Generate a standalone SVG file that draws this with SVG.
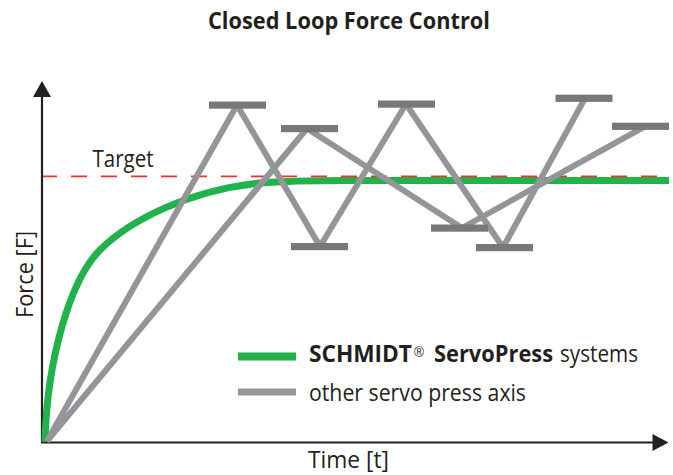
<svg xmlns="http://www.w3.org/2000/svg" width="673" height="475" viewBox="0 0 673 475">
<style>
  .t{font-family:"Open Sans","Liberation Sans",sans-serif;fill:#231f20;font-size:23px}
  .b{font-weight:bold}
  .gray{fill:none;stroke:#939598;stroke-width:6;stroke-linejoin:round}
  .bar{fill:#77787b}
  .green{fill:none;stroke:#21b24b;stroke-width:7}
  .axis{stroke:#231f20;stroke-width:2.2;fill:none}
</style>
<rect width="673" height="475" fill="#ffffff"/>
<text id="title" class="t b" x="208" y="29.3" font-size="22" textLength="282" lengthAdjust="spacingAndGlyphs">Closed Loop Force Control</text>
<g id="axes">
  <line class="axis" x1="42" y1="443" x2="42" y2="96"/>
  <polygon points="42,81 33,97 51,97" fill="#231f20"/>
  <line class="axis" x1="41" y1="442.5" x2="654" y2="442.5"/>
  <polygon points="668.5,442.5 652.5,434 652.5,451" fill="#231f20"/>
  <text class="t" transform="translate(32.5,318) rotate(-90)" textLength="87" lengthAdjust="spacingAndGlyphs">Force [F]</text>
  <text class="t" x="308" y="468" textLength="81" lengthAdjust="spacingAndGlyphs">Time [t]</text>
</g>
<g id="green-curve">
  <path class="green" d="M45,442 C47,360 70,280 100,250 C130,220 190,190 260,183 C290,180.5 320,180.5 350,180.5 L669,180.5"/>
</g>
<g id="target">
  <line x1="43" y1="176.3" x2="668" y2="176.3" stroke="#ee3124" stroke-width="1.7" stroke-dasharray="16 14" stroke-dashoffset="2"/>
  <text class="t" x="92.5" y="166.5" textLength="61" lengthAdjust="spacingAndGlyphs">Target</text>
</g>
<g id="gray-lines">
  <polyline class="gray" points="47,441 237,105 320,246.5 406,104 503,247.5 585,98.3"/>
  <polyline class="gray" points="47,441 307,128.5 462,228 645,126.3"/>
</g>
<g id="bars">
  <rect class="bar" x="209" y="101.5" width="57" height="7.2"/>
  <rect class="bar" x="281" y="125" width="57" height="7.2"/>
  <rect class="bar" x="291" y="243" width="57" height="7.2"/>
  <rect class="bar" x="378" y="100.5" width="57" height="7.2"/>
  <rect class="bar" x="431" y="224.5" width="57" height="7.2"/>
  <rect class="bar" x="476" y="244" width="57" height="7.2"/>
  <rect class="bar" x="555.5" y="94.7" width="57" height="7.2"/>
  <rect class="bar" x="612" y="122.7" width="57" height="7.2"/>
</g>
<g id="legend">
  <line x1="238" y1="356.5" x2="296" y2="356.5" stroke="#21b24b" stroke-width="8"/>
  <line x1="238" y1="392" x2="296" y2="392" stroke="#939598" stroke-width="7"/>
  <text class="t b" x="309" y="362" textLength="103" lengthAdjust="spacingAndGlyphs">SCHMIDT</text>
  <text x="414" y="357" font-family="'Liberation Sans',sans-serif" font-size="15" fill="#231f20" textLength="10" lengthAdjust="spacingAndGlyphs">®</text>
  <text class="t b" x="434" y="362" textLength="119" lengthAdjust="spacingAndGlyphs">ServoPress</text>
  <text class="t" x="560" y="362" textLength="78" lengthAdjust="spacingAndGlyphs">systems</text>
  <text class="t" x="309" y="401" textLength="217" lengthAdjust="spacingAndGlyphs">other servo press axis</text>
</g>
</svg>
